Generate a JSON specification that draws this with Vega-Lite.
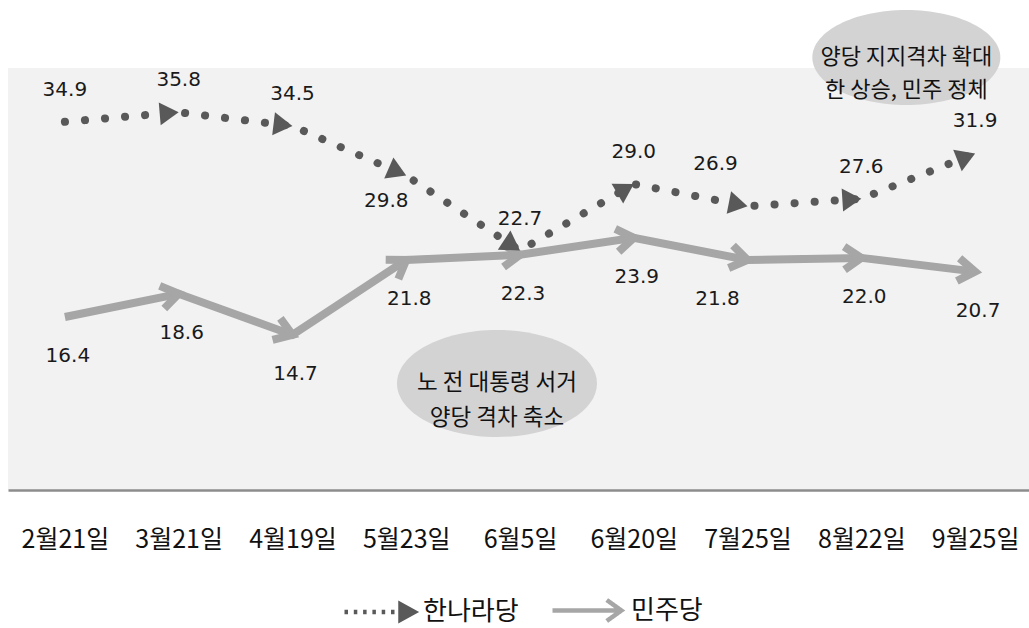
{
  "$schema": "https://vega.github.io/schema/vega-lite/v6.json",
  "width": 1024,
  "height": 422,
  "autosize": {"type": "none"},
  "padding": {"left": 8, "top": 68, "right": 0, "bottom": 138},
  "background": "white",
  "config": {"view": {"fill": "#f2f2f2", "stroke": null}, "font": "Noto Sans CJK KR"},
  "datasets": {
    "series": [
      {"n": 1, "date": "2월21일", "party": "한나라당", "val": 34.9},
      {"n": 2, "date": "3월21일", "party": "한나라당", "val": 35.8},
      {"n": 3, "date": "4월19일", "party": "한나라당", "val": 34.5},
      {"n": 4, "date": "5월23일", "party": "한나라당", "val": 29.8},
      {"n": 5, "date": "6월5일", "party": "한나라당", "val": 22.7},
      {"n": 6, "date": "6월20일", "party": "한나라당", "val": 29.0},
      {"n": 7, "date": "7월25일", "party": "한나라당", "val": 26.9},
      {"n": 8, "date": "8월22일", "party": "한나라당", "val": 27.6},
      {"n": 9, "date": "9월25일", "party": "한나라당", "val": 31.9},
      {"n": 1, "date": "2월21일", "party": "민주당", "val": 16.4},
      {"n": 2, "date": "3월21일", "party": "민주당", "val": 18.6},
      {"n": 3, "date": "4월19일", "party": "민주당", "val": 14.7},
      {"n": 4, "date": "5월23일", "party": "민주당", "val": 21.8},
      {"n": 5, "date": "6월5일", "party": "민주당", "val": 22.3},
      {"n": 6, "date": "6월20일", "party": "민주당", "val": 23.9},
      {"n": 7, "date": "7월25일", "party": "민주당", "val": 21.8},
      {"n": 8, "date": "8월22일", "party": "민주당", "val": 22.0},
      {"n": 9, "date": "9월25일", "party": "민주당", "val": 20.7}
    ],
    "notes": [
      {"id": 1, "date": "6월5일", "val": 10.1, "note": "노 전 대통령 서거\n양당 격차 축소"},
      {"id": 2, "date": "8월22일", "val": 41.0, "note": "양당 지지격차 확대\n한 상승, 민주 정체"}
    ]
  },
  "data": {"name": "series"},
  "encoding": {
    "x": {
      "field": "date",
      "type": "ordinal",
      "scale": {"type": "point", "padding": 0.5, "domain": ["2월21일", "3월21일", "4월19일", "5월23일", "6월5일", "6월20일", "7월25일", "8월22일", "9월25일"]},
      "axis": {"title": null, "ticks": false, "grid": false, "labelAngle": 0, "domainColor": "#8c8c8c", "domainWidth": 2.5, "labelFontSize": 25, "labelFont": "Noto Sans CJK KR", "labelColor": "#111111", "labelPadding": 37}
    },
    "y": {"field": "val", "type": "quantitative", "scale": {"domain": [0, 40], "nice": false}, "axis": null}
  },
  "layer": [
    {
      "transform": [{"filter": "datum.party === '민주당'"}],
      "mark": {"type": "line", "color": "#a6a6a6", "strokeWidth": 8, "strokeCap": "butt", "opacity": 1}
    },
    {
      "transform": [{"filter": "datum.party === '한나라당'"}],
      "mark": {"type": "line", "color": "#595959", "strokeWidth": 8, "strokeCap": "round", "strokeDash": [0.1, 20], "opacity": 1}
    },
    {
      "transform": [
        {"filter": "datum.party === '민주당'"},
        {"window": [{"op": "lag", "field": "val", "as": "prev"}], "sort": [{"field": "n", "order": "ascending"}]},
        {"filter": "isValid(datum.prev)"},
        {"calculate": "-atan((datum.val - datum.prev) * 10.55 / 113.8) * 180 / PI", "as": "ang"}
      ],
      "mark": {"type": "point", "shape": "M -1.7 -1.15 L 0 0 L -1.7 1.15", "size": 400, "filled": false, "color": "#a6a6a6", "strokeWidth": 8, "opacity": 1},
      "encoding": {"angle": {"field": "ang", "type": "quantitative", "scale": null}}
    },
    {
      "transform": [
        {"filter": "datum.party === '한나라당'"},
        {"window": [{"op": "lag", "field": "val", "as": "prev"}], "sort": [{"field": "n", "order": "ascending"}]},
        {"filter": "isValid(datum.prev)"},
        {"calculate": "-atan((datum.val - datum.prev) * 10.55 / 113.8) * 180 / PI", "as": "ang"}
      ],
      "mark": {"type": "point", "shape": "M 0 0 L -1.9 -1.15 L -1.9 1.15 Z", "size": 400, "filled": true, "color": "#595959", "strokeWidth": 0, "opacity": 1},
      "encoding": {"angle": {"field": "ang", "type": "quantitative", "scale": null}}
    },
    {
      "transform": [{"filter": "false"}],
      "mark": {"type": "point", "filled": false, "opacity": 1, "strokeWidth": 4.5},
      "encoding": {
        "color": {
          "field": "party",
          "type": "nominal",
          "scale": {"domain": ["한나라당", "민주당"], "range": ["#595959", "#a6a6a6"]},
          "legend": {
            "title": null,
            "orient": "none",
            "legendX": 334,
            "legendY": 505,
            "direction": "horizontal",
            "symbolSize": 4900,
            "symbolStrokeWidth": 4.5,
            "labelFontSize": 26,
            "labelFont": "Noto Sans CJK KR",
            "labelColor": "#111111",
            "labelOffset": 6,
            "columnPadding": 24
          }
        },
        "shape": {
          "field": "party",
          "type": "nominal",
          "scale": {"domain": ["한나라당", "민주당"], "range": ["M -1 0 L 0.6 0 L 0.6 -0.22 L 1 0 L 0.6 0.22 L 0.6 0 L 0.85 0 L 0.65 -0.1 L 0.65 0.1 L 0.85 0", "M -1 0 L 0.95 0 M 0.55 -0.3 L 0.97 0 L 0.55 0.3"]}
        },
        "strokeDash": {
          "field": "party",
          "type": "nominal",
          "scale": {"domain": ["한나라당", "민주당"], "range": [[3.5, 5.8, 3.5, 5.8, 3.5, 5.8, 3.5, 5.8, 3.5, 5.8, 3.5, 5.8, 120, 1], [1, 0]]}
        }
      }
    },
    {
      "transform": [{"filter": "datum.party === '한나라당' && datum.date !== '5월23일' && datum.date !== '7월25일'"}],
      "mark": {"type": "text", "font": "DejaVu Sans", "fontSize": 20, "color": "#1a1a1a", "dy": -32, "baseline": "middle"},
      "encoding": {"text": {"field": "val", "type": "quantitative", "format": ".1f"}}
    },
    {
      "transform": [{"filter": "datum.party === '한나라당' && datum.date === '5월23일'"}],
      "mark": {"type": "text", "font": "DejaVu Sans", "fontSize": 20, "color": "#1a1a1a", "dy": 25, "dx": -20, "baseline": "middle"},
      "encoding": {"text": {"field": "val", "type": "quantitative", "format": ".1f"}}
    },
    {
      "transform": [{"filter": "datum.party === '한나라당' && datum.date === '7월25일'"}],
      "mark": {"type": "text", "font": "DejaVu Sans", "fontSize": 20, "color": "#1a1a1a", "dy": -42, "dx": -32, "baseline": "middle"},
      "encoding": {"text": {"field": "val", "type": "quantitative", "format": ".1f"}}
    },
    {
      "transform": [{"filter": "datum.party === '민주당' && datum.date !== '7월25일'"}],
      "mark": {"type": "text", "font": "DejaVu Sans", "fontSize": 20, "color": "#1a1a1a", "dy": 39, "dx": 3, "baseline": "middle"},
      "encoding": {"text": {"field": "val", "type": "quantitative", "format": ".1f"}}
    },
    {
      "transform": [{"filter": "datum.party === '민주당' && datum.date === '7월25일'"}],
      "mark": {"type": "text", "font": "DejaVu Sans", "fontSize": 20, "color": "#1a1a1a", "dy": 39, "dx": -30, "baseline": "middle"},
      "encoding": {"text": {"field": "val", "type": "quantitative", "format": ".1f"}}
    },
    {
      "data": {"name": "notes"},
      "transform": [{"filter": "datum.id === 1"}],
      "mark": {"type": "point", "shape": "M -1 0 A 1 0.535 0 1 0 1 0 A 1 0.535 0 1 0 -1 0 Z", "size": 40000, "filled": true, "color": "#d3d3d3", "opacity": 1, "strokeWidth": 0, "xOffset": -23}
    },
    {
      "data": {"name": "notes"},
      "transform": [{"filter": "datum.id === 2"}],
      "mark": {"type": "point", "shape": "M -1 0 A 1 0.505 0 1 0 1 0 A 1 0.505 0 1 0 -1 0 Z", "size": 35344, "filled": true, "color": "#d3d3d3", "opacity": 1, "strokeWidth": 0, "xOffset": 45}
    },
    {
      "data": {"name": "notes"},
      "transform": [{"filter": "datum.id === 1"}],
      "mark": {"type": "text", "lineBreak": "\n", "lineHeight": 35, "fontSize": 22.5, "font": "Noto Sans CJK KR", "color": "#111111", "align": "center", "baseline": "middle", "xOffset": -23},
      "encoding": {"text": {"field": "note", "type": "nominal"}}
    },
    {
      "data": {"name": "notes"},
      "transform": [{"filter": "datum.id === 2"}],
      "mark": {"type": "text", "lineBreak": "\n", "lineHeight": 33, "fontSize": 22, "font": "Noto Sans CJK KR", "color": "#111111", "align": "center", "baseline": "middle", "xOffset": 45},
      "encoding": {"text": {"field": "note", "type": "nominal"}}
    }
  ]
}
